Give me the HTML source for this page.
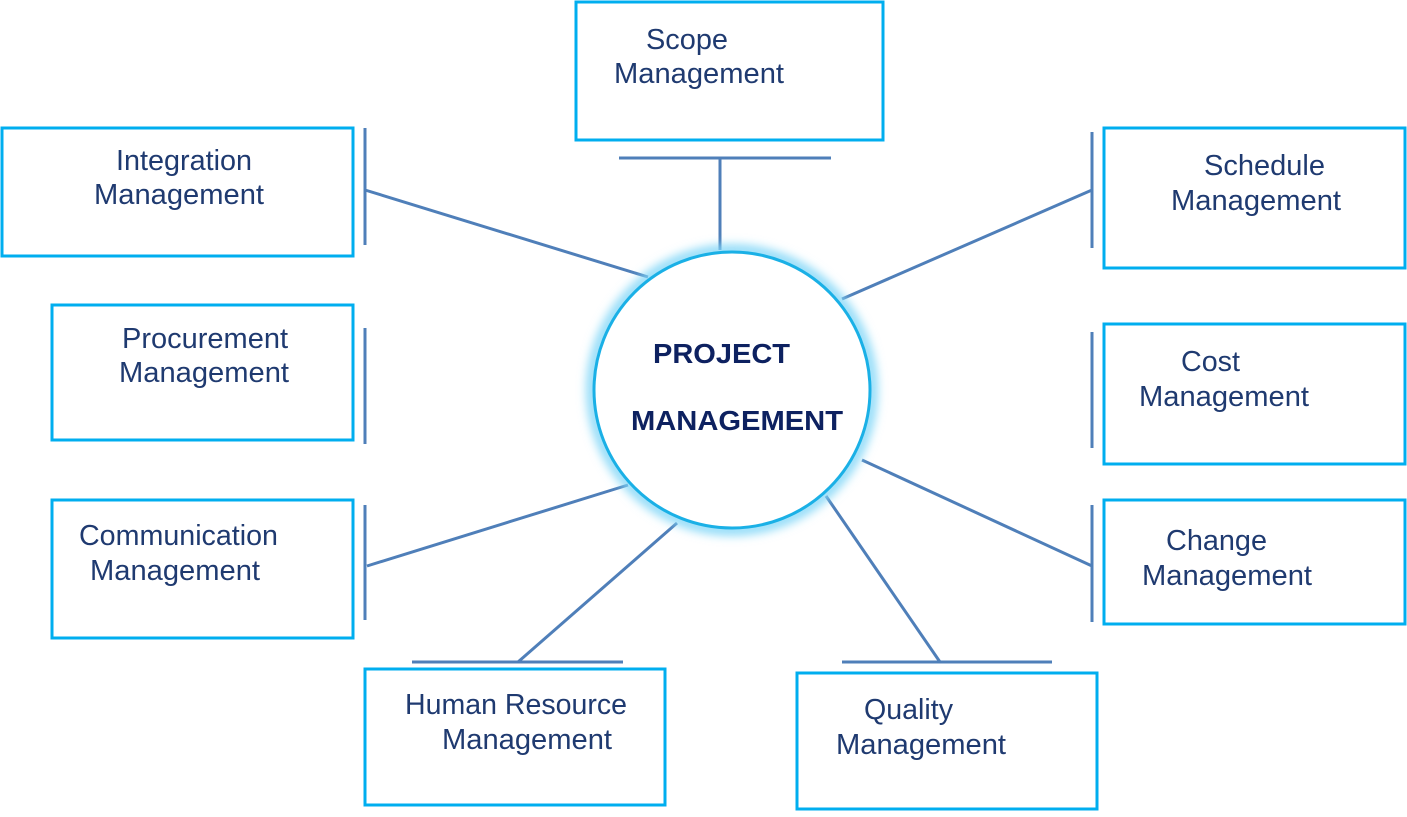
<!DOCTYPE html>
<html><head><style>html,body{margin:0;padding:0;background:#fff}</style></head>
<body>
<svg width="1407" height="812" viewBox="0 0 1407 812" xmlns="http://www.w3.org/2000/svg">
<defs>
<filter id="glow" x="-20%" y="-20%" width="140%" height="140%"><feGaussianBlur stdDeviation="5"/></filter>
</defs>
<g fill="none" stroke="#00aeef" stroke-width="3">
<rect x="576" y="2" width="307" height="138"/>
<rect x="2" y="128" width="351" height="128"/>
<rect x="52" y="305" width="301" height="135"/>
<rect x="52" y="500" width="301" height="138"/>
<rect x="365" y="669" width="300" height="136"/>
<rect x="797" y="673" width="300" height="136"/>
<rect x="1104" y="128" width="301" height="140"/>
<rect x="1104" y="324" width="301" height="140"/>
<rect x="1104" y="500" width="301" height="124"/>
</g>
<g stroke="#4f7fb9" stroke-width="3" fill="none">
<line x1="619" y1="158" x2="831" y2="158"/><line x1="720" y1="158" x2="720" y2="250"/>
<line x1="365" y1="128" x2="365" y2="245"/><line x1="365" y1="190" x2="648" y2="277"/>
<line x1="365" y1="328" x2="365" y2="444"/>
<line x1="365" y1="505" x2="365" y2="620"/><line x1="367" y1="566" x2="628" y2="485"/>
<line x1="412" y1="662" x2="623" y2="662"/><line x1="518" y1="662" x2="677" y2="523"/>
<line x1="842" y1="662" x2="1052" y2="662"/><line x1="940" y1="662" x2="826" y2="496"/>
<line x1="1092" y1="132" x2="1092" y2="248"/><line x1="1092" y1="190" x2="842" y2="299"/>
<line x1="1092" y1="332" x2="1092" y2="448"/>
<line x1="1092" y1="505" x2="1092" y2="622"/><line x1="1092" y1="566" x2="862" y2="460"/>
</g>
<circle cx="732" cy="390" r="140" fill="none" stroke="#7fd6f7" stroke-width="10" filter="url(#glow)"/>
<circle cx="732" cy="390" r="138" fill="#fff" stroke="#1ab0e6" stroke-width="3"/>
<g font-family="Liberation Sans, sans-serif" font-size="29" fill="#1f3a70">
<text x="646" y="49" textLength="82" lengthAdjust="spacingAndGlyphs">Scope</text><text x="614" y="83" textLength="170" lengthAdjust="spacingAndGlyphs">Management</text>
<text x="116" y="170" textLength="136" lengthAdjust="spacingAndGlyphs">Integration</text><text x="94" y="204" textLength="170" lengthAdjust="spacingAndGlyphs">Management</text>
<text x="122" y="348" textLength="166" lengthAdjust="spacingAndGlyphs">Procurement</text><text x="119" y="382" textLength="170" lengthAdjust="spacingAndGlyphs">Management</text>
<text x="79" y="545" textLength="199" lengthAdjust="spacingAndGlyphs">Communication</text><text x="90" y="580" textLength="170" lengthAdjust="spacingAndGlyphs">Management</text>
<text x="405" y="714" textLength="222" lengthAdjust="spacingAndGlyphs">Human Resource</text><text x="442" y="749" textLength="170" lengthAdjust="spacingAndGlyphs">Management</text>
<text x="864" y="719" textLength="89" lengthAdjust="spacingAndGlyphs">Quality</text><text x="836" y="754" textLength="170" lengthAdjust="spacingAndGlyphs">Management</text>
<text x="1204" y="175" textLength="121" lengthAdjust="spacingAndGlyphs">Schedule</text><text x="1171" y="210" textLength="170" lengthAdjust="spacingAndGlyphs">Management</text>
<text x="1181" y="371" textLength="59" lengthAdjust="spacingAndGlyphs">Cost</text><text x="1139" y="406" textLength="170" lengthAdjust="spacingAndGlyphs">Management</text>
<text x="1166" y="550" textLength="101" lengthAdjust="spacingAndGlyphs">Change</text><text x="1142" y="585" textLength="170" lengthAdjust="spacingAndGlyphs">Management</text>
</g>
<g font-family="Liberation Sans, sans-serif" font-size="28" font-weight="bold" fill="#0d2160">
<text x="653" y="363" textLength="137" lengthAdjust="spacingAndGlyphs">PROJECT</text>
<text x="631" y="430" textLength="212" lengthAdjust="spacingAndGlyphs">MANAGEMENT</text>
</g>
</svg>
</body></html>
